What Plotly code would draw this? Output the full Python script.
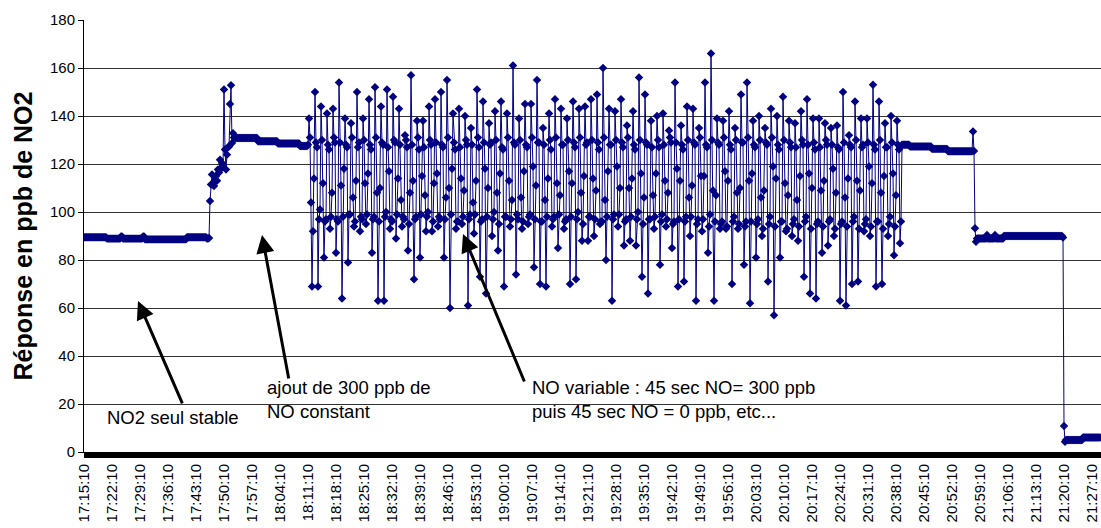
import plotly.graph_objects as go

# ---------------- data (one sample every 15 s, starting 17:15:10) ----------------
tick_labels = ["17:15:10", "17:22:10", "17:29:10", "17:36:10", "17:43:10", "17:50:10",
               "17:57:10", "18:04:10", "18:11:10", "18:18:10", "18:25:10", "18:32:10",
               "18:39:10", "18:46:10", "18:53:10", "19:00:10", "19:07:10", "19:14:10",
               "19:21:10", "19:28:10", "19:35:10", "19:42:10", "19:49:10", "19:56:10",
               "20:03:10", "20:10:10", "20:17:10", "20:24:10", "20:31:10", "20:38:10",
               "20:45:10", "20:52:10", "20:59:10", "21:06:10", "21:13:10", "21:20:10",
               "21:27:10"]
samples_per_label = 28  # 7 min at 15 s per sample

# NO2 alone, stable : (value, number of samples)
no2_stable_runs = [(89.5, 23), (88.9, 14), (89.8, 2), (88.9, 20), (89.8, 2),
                   (88.6, 42), (89.5, 20), (89.0, 2)]
# addition of 300 ppb NO (constant)
no2_rise = [89.2, 104.6, 111.5, 115.6, 112, 110.8, 113.5, 115, 113, 117.7, 116.5,
            121.8, 118, 120.4, 119.5, 151, 126, 117.7, 123.9, 127, 127.3, 145,
            152.8, 128.7, 132.8, 131, 130.8]
no2_constant_runs = [(130.8, 22), (129.5, 20), (128.5, 22), (127.5, 8)]
# NO variable: 45 s NO=300 ppb / 45 s NO=0 ppb (6 samples per cycle)
no2_cycles = [
    [128, 139, 131, 104, 69, 92], [114, 150, 129, 127, 69, 97], [101, 144, 130, 112, 81, 96],
    [97, 141, 128, 126, 93, 98], [108, 143, 131, 129, 83, 97], [96, 154, 129, 111, 64, 98],
    [118, 139, 128, 127, 79, 99], [99, 137, 131, 106, 94, 96], [113, 150, 127, 129, 92, 98],
    [97, 139, 130, 112, 95, 99], [116, 147, 128, 126, 83, 97], [98, 152, 131, 108, 63, 96],
    [110, 144, 129, 128, 63, 98], [100, 151, 127, 117, 93, 97], [96, 148, 130, 129, 89, 99],
    [114, 143, 128, 105, 94, 98], [97, 132, 130, 127, 84, 95], [108, 157, 128, 113, 72, 97],
    [98, 138, 131, 126, 81, 99], [115, 138, 127, 107, 92, 98], [100, 144, 130, 128, 92, 96],
    [112, 147, 129, 116, 94, 98], [97, 150, 128, 127, 81, 97], [106, 155, 131, 110, 60, 99],
    [118, 141, 129, 126, 93, 96], [96, 143, 127, 114, 95, 98], [109, 140, 130, 128, 61, 97],
    [99, 135, 128, 104, 91, 99], [113, 151, 131, 127, 73, 96], [97, 146, 129, 118, 66, 98],
    [110, 137, 128, 129, 90, 97], [100, 142, 130, 108, 84, 95], [116, 146, 127, 126, 69, 98],
    [98, 141, 131, 113, 94, 97], [105, 161, 129, 128, 74, 99], [97, 139, 130, 106, 93, 96],
    [117, 145, 128, 127, 95, 98], [99, 145, 131, 119, 77, 97], [111, 155, 129, 129, 70, 96],
    [96, 135, 128, 105, 69, 98], [114, 141, 130, 126, 94, 97], [98, 147, 131, 112, 85, 99],
    [107, 143, 128, 128, 93, 96], [97, 139, 130, 117, 70, 98], [112, 146, 129, 127, 72, 97],
    [100, 143, 131, 108, 88, 95], [115, 144, 128, 129, 88, 98], [98, 147, 130, 114, 90, 97],
    [109, 149, 129, 126, 95, 96], [96, 160, 131, 105, 80, 98], [117, 143, 128, 128, 63, 97],
    [99, 142, 130, 119, 94, 99], [110, 147, 129, 127, 86, 96], [97, 136, 131, 110, 88, 98],
    [114, 142, 128, 126, 86, 97], [100, 156, 130, 116, 73, 95], [106, 149, 129, 128, 66, 97],
    [97, 138, 127, 107, 93, 98], [116, 140, 130, 127, 78, 96], [99, 141, 128, 113, 94, 97],
    [108, 134, 131, 129, 85, 95], [96, 154, 129, 118, 69, 97], [113, 136, 128, 126, 71, 96],
    [98, 144, 130, 106, 90, 98], [111, 143, 129, 128, 63, 95], [97, 135, 131, 115, 92, 97],
    [115, 154, 128, 127, 83, 94], [99, 166, 130, 109, 63, 96], [107, 139, 129, 128, 93, 95],
    [96, 138, 131, 117, 93, 94], [113, 142, 128, 126, 70, 96], [98, 135, 130, 108, 93, 95],
    [110, 149, 129, 129, 78, 94], [96, 154, 131, 113, 62, 96], [116, 138, 128, 127, 81, 95],
    [97, 140, 130, 106, 90, 93], [109, 135, 129, 128, 71, 95], [98, 143, 131, 119, 57, 94],
    [114, 140, 128, 126, 81, 96], [96, 148, 130, 112, 92, 93], [107, 138, 129, 127, 90, 95],
    [97, 137, 127, 105, 88, 94], [115, 142, 130, 128, 73, 96], [98, 147, 128, 116, 66, 93],
    [110, 139, 129, 126, 64, 95], [96, 139, 127, 109, 83, 94], [113, 137, 130, 128, 86, 96],
    [97, 135, 128, 118, 90, 93], [108, 136, 127, 126, 63, 95], [96, 150, 129, 106, 61, 94],
    [114, 132, 128, 127, 70, 96], [98, 146, 130, 113, 71, 93], [109, 139, 127, 128, 92, 95],
    [97, 139, 129, 119, 90, 94], [112, 153, 128, 126, 69, 96], [96, 146, 130, 108, 70, 93],
    [115, 137, 127, 127, 90, 95], [98, 140, 129, 116, 82, 94], [107, 138, 128, 126, 87, 96],
]
no2_after_runs = [(128, 8), (127.3, 22), (126.3, 16), (125.3, 25)]
no2_drop = [133.5, 125.4, 93.2, 87.6]
no2_alone_runs = [(89, 10), (90.4, 1), (89, 7), (90.4, 1), (89, 8), (90, 59)]
no2_end = [89.4, 10.8, 4.3]
no2_zero_runs = [(5, 17), (6, 18)]


def expand(runs):
    out = []
    for v, n in runs:
        out.extend([v] * n)
    return out


values = (expand(no2_stable_runs) + no2_rise + expand(no2_constant_runs)
          + [v for row in no2_cycles for v in row]
          + expand(no2_after_runs) + no2_drop + expand(no2_alone_runs)
          + no2_end + expand(no2_zero_runs))
sample_index = list(range(len(values)))

FONT = "Liberation Sans, Arial, sans-serif"
NAVY = "#000080"

fig = go.Figure()
fig.add_trace(go.Scatter(
    x=sample_index, y=values, mode="lines+markers",
    line=dict(color=NAVY, width=1),
    marker=dict(symbol="diamond", size=6.5, color=NAVY, line=dict(width=0)),
    hoverinfo="y", showlegend=False))

arrows = [((54, 62.9), (99, 19.6)), ((178, 90.4), (205, 30)), ((379, 90.8), (441, 28.75))]
for (tx, ty), (sx, sy) in arrows:
    fig.add_annotation(x=tx, y=ty, ax=sx, ay=sy, axref="x", ayref="y", xref="x", yref="y",
                       text="", showarrow=True, arrowhead=2, arrowsize=1.2,
                       arrowwidth=3, arrowcolor="black", standoff=0, startstandoff=0)

texts = [(21, 14.2, "NO2 seul stable"),
         (181, 21.9, "ajout de 300 ppb de<br>NO constant"),
         (446, 21.7, "NO variable : 45 sec NO= 300 ppb<br>puis 45 sec NO = 0 ppb, etc...")]
for x, y, t in texts:
    fig.add_annotation(x=x, y=y, xref="x", yref="y", text=t, showarrow=False,
                       xanchor="left", yanchor="middle", align="left",
                       font=dict(family=FONT, size=18.5, color="black"))

# dense category tick marks forming the thick bar under the axis
fig.add_shape(type="rect", xref="paper", yref="paper", x0=0, x1=1, y0=-6 / 432, y1=0,
              fillcolor="black", line=dict(width=0), layer="above")

fig.update_layout(
    width=1101, height=528, autosize=False,
    margin=dict(l=84, r=0, t=20, b=76),
    paper_bgcolor="white", plot_bgcolor="white",
    font=dict(family=FONT, color="black"),
    xaxis=dict(range=[0, 1017], tickvals=[k * samples_per_label for k in range(len(tick_labels))],
               ticktext=tick_labels, tickangle=-90, ticks="outside", ticklen=5,
               tickcolor="black", showline=True, linecolor="black", linewidth=1,
               showgrid=False, zeroline=False, tickfont=dict(size=15, family=FONT, color="black")),
    yaxis=dict(range=[0, 180], tickvals=list(range(0, 181, 20)), ticks="outside", ticklen=5,
               tickcolor="black", showline=True, linecolor="black", linewidth=1,
               showgrid=True, gridcolor="#333333", gridwidth=1, zeroline=False,
               tickfont=dict(size=15, family=FONT, color="black"),
               title=dict(text="<b>Réponse en ppb de NO2</b>", standoff=10,
                          font=dict(size=25, family=FONT, color="black"))),
)

fig.write_html("out.html")
